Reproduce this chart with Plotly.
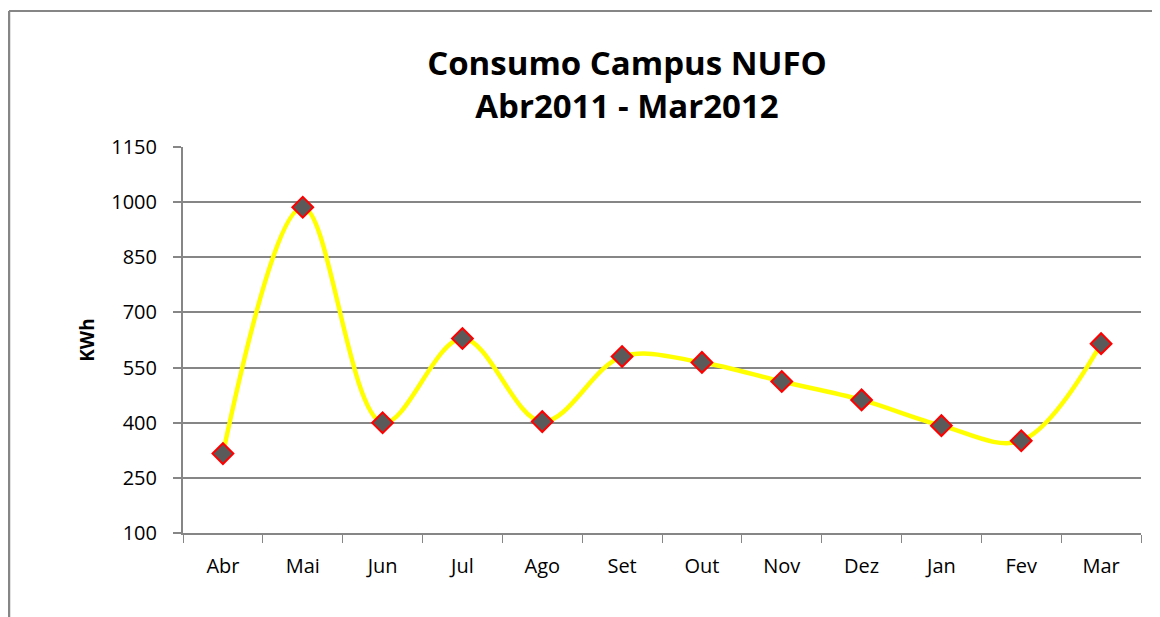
import plotly.graph_objects as go

months = ["Abr", "Mai", "Jun", "Jul", "Ago", "Set", "Out", "Nov", "Dez", "Jan", "Fev", "Mar"]
kwh = [316, 986, 400, 629, 403, 580, 564, 512, 462, 392, 351, 615]
y_ticks = [100, 250, 400, 550, 700, 850, 1000, 1150]

W, H = 1160, 617
OFF = 8  # page body margin offset
L, T = 183 - OFF, 147 - OFF
R = W - (1141 - OFF)
B = H - (533 - OFF)
pw, ph = W - L - R, H - T - B

fig = go.Figure()
fig.add_trace(go.Scatter(
    x=months, y=kwh, mode="lines+markers",
    line=dict(color="#FFFF00", width=4.5, shape="spline", smoothing=1.0),
    marker=dict(symbol="diamond", size=16, color="#5A5A5A",
                line=dict(color="#FF0000", width=2)),
    showlegend=False, cliponaxis=False,
))

fig.update_layout(
    width=W, height=H,
    margin=dict(l=L, r=R, t=T, b=B),
    paper_bgcolor="white", plot_bgcolor="white",
    font=dict(family="Open Sans", color="#000000"),
    title=dict(text="<b>Consumo Campus NUFO<br>Abr2011 - Mar2012</b>",
               x=(627 - OFF) / W, xanchor="center", y=1 - (75 - OFF) / H, yanchor="middle",
               font=dict(size=33, family="Open Sans", color="#000000")),
)
fig.update_xaxes(
    type="category", showgrid=False, showline=True, linecolor="#868686", linewidth=2,
    ticks="outside", tickson="boundaries", ticklen=8, tickcolor="#868686", tickwidth=1,
    tickfont=dict(size=20, color="#000000"), range=[-0.5, 11.5],
    ticklabelstandoff=14,
)
fig.update_yaxes(
    range=[100, 1150], tickvals=y_ticks, showgrid=True, gridcolor="#868686", gridwidth=1.5,
    showline=True, linecolor="#868686", linewidth=2, zeroline=False,
    ticks="outside", ticklen=8, tickcolor="#868686", tickwidth=1.5,
    tickfont=dict(size=20, color="#000000"), ticklabelstandoff=12,
    title=dict(text="<b>KWh</b>", font=dict(size=19, color="#000000"), standoff=12),
)

# outer chart border (top and left)
x_left = (9 - OFF - L) / pw
y_top = 1 + (T - (11 - OFF)) / ph
y_bot = 1 - (H + 10 - T) / ph
x_right = (W + 10 - L) / pw
fig.add_shape(type="line", xref="paper", yref="paper", x0=x_left, x1=x_left,
              y0=y_bot, y1=y_top, line=dict(color="#868686", width=2.5))
fig.add_shape(type="line", xref="paper", yref="paper", x0=x_left, x1=x_right,
              y0=y_top, y1=y_top, line=dict(color="#868686", width=2))

fig.write_html("out.html")
